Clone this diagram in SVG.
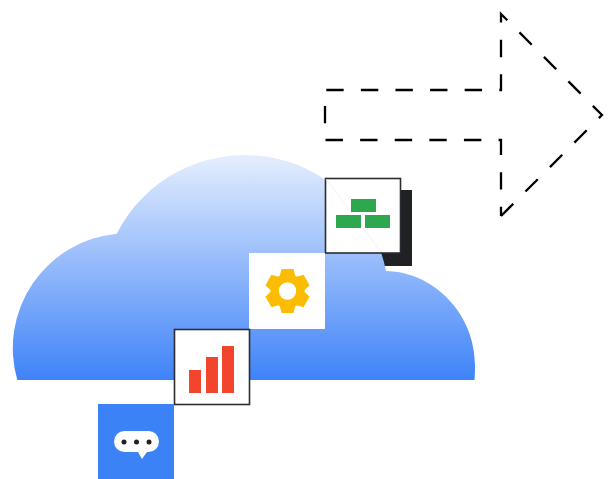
<svg xmlns="http://www.w3.org/2000/svg" xmlns:xlink="http://www.w3.org/1999/xlink" width="610" height="479" viewBox="0 0 610 479">
<style>
.card{fill:#fff;stroke:#2b2d31;stroke-width:1.6}
.green{fill:#2ea84f}
.red{fill:#f2452d}
.gear{fill:#fbbc04}
.dot{fill:#202124}
</style>
<defs>
<linearGradient id="sky" gradientUnits="userSpaceOnUse" x1="0" y1="155" x2="0" y2="380">
<stop offset="0" stop-color="#e5eefe"/>
<stop offset="1" stop-color="#3f83f8"/>
</linearGradient>
<path id="tooth" d="M-8 -14L-6 -22H6L8 -14Z"/>
</defs>
<rect width="610" height="479" fill="#fff"/>
<g id="shadow"><rect x="336" y="190" width="76" height="76" fill="#202124"/></g>
<g id="cloud"><path d="M17.300 380A115 115 0 0 1 116.700 233.700A143.800 143.800 0 0 1 386 271C435 272 475 315 475 365C475 370 475 375 474.500 380Z" fill="url(#sky)"/></g>
<g id="connectors"><path d="M501 216L602 115L501 14V90H325V140H501V216" fill="none" stroke="#000" stroke-width="2.300" stroke-dasharray="17.400 17.200"/></g>
<g id="node-blocks">
<rect class="card" x="325.500" y="178.500" width="75" height="74.500"/>
<path d="M326 179L381 252" stroke="#e6edfd" stroke-width="0.700" fill="none"/>
<rect class="green" x="351" y="199" width="25" height="13"/>
<rect class="green" x="336" y="215" width="25" height="13"/>
<rect class="green" x="365" y="215" width="25" height="13"/>
</g>
<g id="node-gear">
<rect x="249" y="253" width="76" height="76" fill="#fff"/>
<g class="gear" transform="translate(287.500 291)">
<circle r="17"/>
<use xlink:href="#tooth" href="#tooth"/>
<use xlink:href="#tooth" href="#tooth" transform="rotate(60)"/>
<use xlink:href="#tooth" href="#tooth" transform="rotate(120)"/>
<use xlink:href="#tooth" href="#tooth" transform="rotate(180)"/>
<use xlink:href="#tooth" href="#tooth" transform="rotate(240)"/>
<use xlink:href="#tooth" href="#tooth" transform="rotate(300)"/>
<circle r="8.700" fill="#fff"/>
</g>
</g>
<g id="node-bars">
<rect class="card" x="174.500" y="329.500" width="75" height="75"/>
<rect class="red" x="189" y="370" width="12" height="23"/>
<rect class="red" x="206" y="357" width="12" height="36"/>
<rect class="red" x="222" y="346" width="12" height="47"/>
</g>
<g id="node-chat">
<rect x="98" y="404" width="76" height="75" fill="#3b82f6"/>
<path d="M124.500 431H148.500A10.500 10.500 0 0 1 148.500 452H147L142 459L138 452H124.500A10.500 10.500 0 0 1 124.500 431Z" fill="#fff"/>
<circle class="dot" cx="124" cy="442" r="2.500"/>
<circle class="dot" cx="136.500" cy="442" r="2.500"/>
<circle class="dot" cx="149" cy="442" r="2.500"/>
</g>
</svg>
